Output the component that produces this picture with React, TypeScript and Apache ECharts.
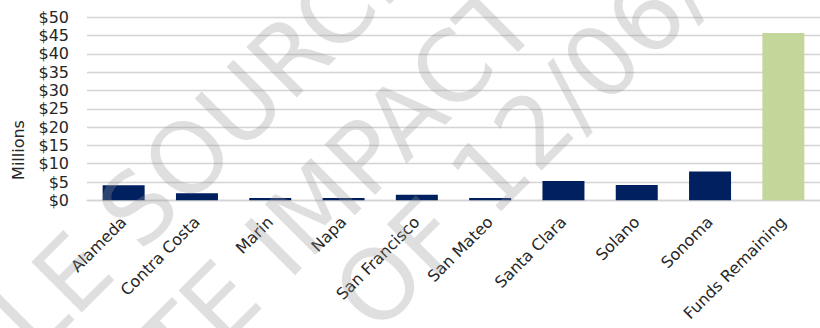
import React, { useEffect, useRef } from "react";
import * as echarts from "echarts";

const categories = [
  "Alameda",
  "Contra Costa",
  "Marin",
  "Napa",
  "San Francisco",
  "San Mateo",
  "Santa Clara",
  "Solano",
  "Sonoma",
  "Funds Remaining",
];
const valuesMillions = [4.1, 1.9, 0.6, 0.6, 1.5, 0.6, 5.3, 4.2, 7.9, 45.7];
const yTicks = [0, 5, 10, 15, 20, 25, 30, 35, 40, 45, 50];
const axisName = "Millions";
const watermarkLines = ["FILE SOURCE", "TE IMPACT", "OF 12/06/2022"];

const NAVY = "#002060";
const GREEN = "#C4D79B";
const FONT = "DejaVu Sans";

export default function App() {
  const ref = useRef<HTMLDivElement>(null);
  useEffect(() => {
    if (!ref.current) return;
    const chart = echarts.init(ref.current, undefined, { renderer: "svg" });
    const wmPos = [
      [-48, 394],
      [156, 366],
      [352, 312],
    ];
    chart.setOption({
      animation: false,
      grid: { left: 87, right: -11, top: 17.3, bottom: 127.7, containLabel: false },
      xAxis: {
        type: "category",
        data: categories,
        axisLine: { lineStyle: { color: "#d4d4d4", width: 1.3 } },
        axisTick: { show: false },
        axisLabel: {
          interval: 0,
          rotate: 45,
          margin: 19,
          fontSize: 16,
          fontFamily: FONT,
          color: "#262626",
        },
      },
      yAxis: {
        type: "value",
        min: yTicks[0],
        max: yTicks[yTicks.length - 1],
        interval: yTicks[1] - yTicks[0],
        axisLine: { show: false },
        axisTick: { show: false },
        splitLine: { lineStyle: { color: "#d4d4d4", width: 1.3 } },
        axisLabel: {
          margin: 18,
          fontSize: 16,
          fontFamily: FONT,
          color: "#262626",
          formatter: (v: number) => "$" + v,
        },
      },
      series: [
        {
          type: "bar",
          barWidth: 42,
          data: valuesMillions.map((v, i) => ({
            value: v,
            itemStyle: { color: categories[i] === "Funds Remaining" ? GREEN : NAVY },
          })),
        },
      ],
      graphic: [
        {
          type: "text",
          x: 18,
          y: 150,
          rotation: Math.PI / 2,
          style: {
            text: axisName,
            fontSize: 16,
            fontFamily: FONT,
            fill: "#262626",
            align: "center",
            verticalAlign: "middle",
          },
        },
        ...watermarkLines.map((t, i) => ({
          type: "text",
          x: wmPos[i][0],
          y: wmPos[i][1],
          rotation: Math.PI / 4,
          silent: true,
          z: 100,
          style: {
            text: t,
            fontSize: 98,
            fontFamily: FONT,
            fill: "rgba(150,150,150,0.3)",
            align: "left",
            verticalAlign: "middle",
          },
        })),
      ],
    });
    return () => chart.dispose();
  }, []);
  return (
    <div
      ref={ref}
      style={{ position: "fixed", left: 0, top: 0, width: 820, height: 328, background: "#fff" }}
    />
  );
}
